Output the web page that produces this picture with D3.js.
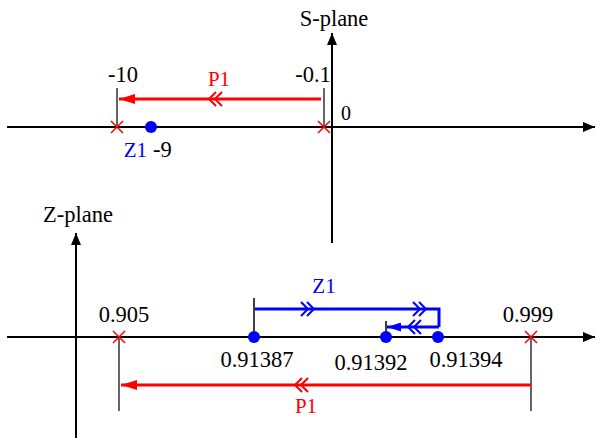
<!DOCTYPE html>
<html>
<head>
<meta charset="utf-8">
<script src="https://cdn.jsdelivr.net/npm/d3@7"></script>
<style>
  body { margin: 0; background: #fff; }
  text { font-family: "Liberation Serif", "DejaVu Serif", serif; }
</style>
</head>
<body>
<svg id="chart" width="596" height="438"></svg>
<script>
// S-plane
const sPoles = [-10, -0.1]
const sZeros = [-9]
const sPoleLabels = ['-10', '-0.1']
const sZeroLabels = ['-9']
const sDomain = [-10, -9, -0.1, 0]
// Z-plane
const zPoles = [0.905, 0.999]
const zZeros = [0.91387, 0.91392, 0.91394]
const zPoleLabels = ['0.905', '0.999']
const zZeroLabels = ['0.91387', '0.91392', '0.91394']
const zDomain = [0.905, 0.91387, 0.91392, 0.91394, 0.999]

const RED = '#ff0000'
const BLUE = '#0000ff'
const FS = 22.5

const svg = d3.select('#chart')

// schematic (piecewise) scales, not to scale like the original drawing
const xs = d3.scaleLinear().domain(sDomain).range([117, 151, 324, 332])
const xz = d3.scaleLinear().domain(zDomain).range([119, 254, 386, 438, 531])

const defs = svg.append('defs')
const mk = (id, color, w, h) => {
  defs.append('marker')
    .attr('id', id).attr('viewBox', `0 0 ${w} ${h}`)
    .attr('refX', w).attr('refY', h / 2)
    .attr('markerWidth', w).attr('markerHeight', h)
    .attr('markerUnits', 'userSpaceOnUse').attr('orient', 'auto')
    .append('path').attr('d', `M0,0L${w},${h / 2}L0,${h}Z`).attr('fill', color)
}
mk('axisArrow', '#000', 12, 10)
mk('redArrow', RED, 16, 10)
mk('blueArrow', BLUE, 14, 9)

const line = (g, x1, y1, x2, y2, color, w, marker) => {
  const l = g.append('line').attr('x1', x1).attr('y1', y1).attr('x2', x2).attr('y2', y2)
    .attr('stroke', color).attr('stroke-width', w)
  if (marker) l.attr('marker-end', `url(#${marker})`)
  return l
}
const label = (g, x, y, txt, color, size, anchor) => g.append('text')
  .attr('x', x).attr('y', y).attr('fill', color || '#000')
  .attr('font-size', size || FS).attr('text-anchor', anchor || 'middle').text(txt)
// double chevron, dir = -1 points left, 1 points right
const chevrons = (g, cx, cy, dir, color) => {
  ;[0, 6].forEach(o => {
    const x = cx + dir * o
    g.append('path')
      .attr('d', `M${x - dir * 7},${cy - 7}L${x},${cy}L${x - dir * 7},${cy + 7}`)
      .attr('fill', 'none').attr('stroke', color).attr('stroke-width', 2)
  })
}
const cross = (g, x, y) => {
  g.append('path').attr('d', `M${x - 6},${y - 6}L${x + 6},${y + 6}M${x - 6},${y + 6}L${x + 6},${y - 6}`)
    .attr('stroke', RED).attr('stroke-width', 1.5)
}
const dot = (g, x, y) => g.append('circle').attr('cx', x).attr('cy', y).attr('r', 6).attr('fill', BLUE)

// ---------- S-plane ----------
const gs = svg.append('g')
const sy = 127
line(gs, 7, sy, 595, sy, '#000', 2, 'axisArrow')
line(gs, xs(0), 243, xs(0), 33, '#000', 2, 'axisArrow')
label(gs, 334, 26, 'S-plane')
label(gs, xs(0) + 9, 120, '0', '#000', 20, 'start')

sPoles.forEach((p, i) => line(gs, xs(p), sy, xs(p), 88, '#333', 1.5))
line(gs, xs(sPoles[1]) - 3, 99, xs(sPoles[0]) + 2, 99, RED, 3, 'redArrow')
chevrons(gs, 215, 99, -1, RED)
label(gs, 219, 86, 'P1', RED, 21)
label(gs, xs(sPoles[0]) + 6, 82, sPoleLabels[0])
label(gs, xs(sPoles[1]) - 11, 82, sPoleLabels[1])

sPoles.forEach(p => cross(gs, xs(p), sy))
sZeros.forEach((z, i) => {
  dot(gs, xs(z), sy)
  label(gs, xs(z) - 4, 157, 'Z1', BLUE, 21, 'end')
  label(gs, xs(z) + 2, 157, sZeroLabels[i], '#000', FS, 'start')
})

// ---------- Z-plane ----------
const gz = svg.append('g')
const zy = 337
line(gz, 7, zy, 595, zy, '#000', 2, 'axisArrow')
line(gz, 76, 438, 76, 233, '#000', 2, 'axisArrow')
label(gz, 78, 222, 'Z-plane')

// tick lines
zPoles.forEach(p => line(gz, xz(p), zy, xz(p), 411, '#333', 1.5))
line(gz, xz(zZeros[0]), zy, xz(zZeros[0]), 298, '#000', 1.5)
line(gz, xz(zZeros[1]), zy, xz(zZeros[1]), 321, '#000', 1.5)

// Z1 trajectory
const tY = 309, bY = 327, rX = xz(zZeros[2]) + 1
gz.append('path')
  .attr('d', `M${xz(zZeros[0]) + 1},${tY}H${rX}V${bY}`)
  .attr('fill', 'none').attr('stroke', BLUE).attr('stroke-width', 3)
line(gz, rX, bY, xz(zZeros[1]) + 1, bY, BLUE, 3, 'blueArrow')
chevrons(gz, 308, tY, 1, BLUE)
chevrons(gz, 420, tY, 1, BLUE)
chevrons(gz, 414, bY, -1, BLUE)
label(gz, 324, 293, 'Z1', BLUE, 21)

// P1 trajectory
line(gz, xz(zPoles[1]), 385, xz(zPoles[0]) + 2, 385, RED, 3, 'redArrow')
chevrons(gz, 301, 385, -1, RED)
label(gz, 306, 413, 'P1', RED, 21)

zPoles.forEach((p, i) => {
  cross(gz, xz(p), zy)
  label(gz, xz(p) + (i ? -3 : 5), 322, zPoleLabels[i])
})
const zLabelPos = [[3, 367], [-15, 370], [28, 367]]
zZeros.forEach((z, i) => {
  dot(gz, xz(z), zy)
  label(gz, xz(z) + zLabelPos[i][0], zLabelPos[i][1], zZeroLabels[i])
})
</script>
</body>
</html>
